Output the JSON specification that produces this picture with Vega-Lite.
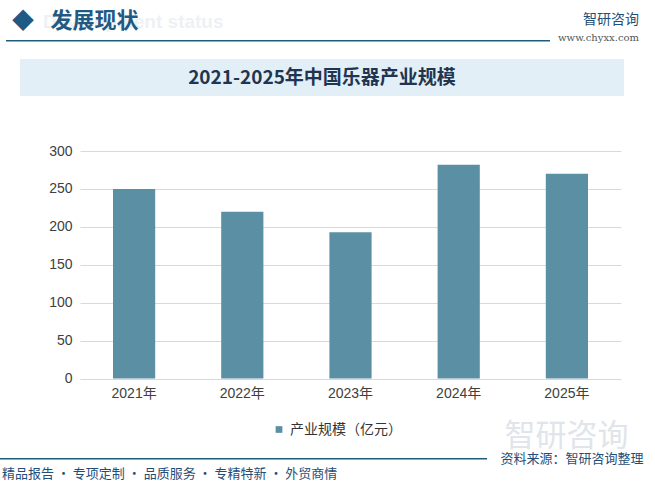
{
  "$schema": "https://vega.github.io/schema/vega-lite/v6.json",
  "background": "white",
  "padding": {"left": 0, "top": 9, "right": 0, "bottom": 0},
  "config": {"view": {"stroke": null}, "font": "Noto Sans CJK SC"},
  "title": {
    "text": "精品报告 · 专项定制 · 品质服务 · 专精特新 · 外贸商情",
    "orient": "bottom", "anchor": "start", "frame": "bounds",
    "fontSize": 13, "fontWeight": "normal", "color": "#1f4e79",
    "offset": 2, "dx": 2
  },
  "spacing": 0,
  "resolve": {"legend": {"color": "independent"}},
  "vconcat": [
    {
      "hconcat": [
        {
          "width": 6, "height": 1.5,
          "data": {"values": []},
          "mark": {"type": "text"},
          "title": {
            "text": "Development status", "anchor": "start", "fontSize": 19, "fontWeight": "bold",
            "font": "Liberation Sans", "color": "#eef1f4", "offset": 8.5, "dx": 43, "limit": 300
          }
        },
        {
          "width": 544, "height": 1.5,
          "view": {"fill": "#1f5c7a", "stroke": null},
          "data": {"values": []},
          "mark": {"type": "text"},
          "title": {
            "text": "◆\u2002\u2005发展现状", "anchor": "start", "fontSize": 22, "fontWeight": "bold",
            "color": "#1f5a85", "offset": 7.5, "dx": 6, "limit": 300
          }
        },
        {
          "width": 89, "height": 1.5,
          "data": {"values": []},
          "mark": {"type": "text"},
          "title": {
            "text": "智研咨询", "subtitle": "www.chyxx.com", "anchor": "end",
            "fontSize": 14, "fontWeight": "normal", "color": "#1f4e79",
            "subtitleFontSize": 10, "subtitleColor": "#555555", "subtitleFont": "DejaVu Serif",
            "subtitlePadding": 6, "offset": -3, "limit": 150
          }
        },
        {
          "width": 1, "height": 1.5,
          "data": {"values": []},
          "mark": {"type": "text"},
          "title": {"text": " ", "orient": "bottom", "fontSize": 4, "offset": 13, "limit": 100}
        }
      ],
      "spacing": 0,
      "bounds": "flush"
    },
    {
      "hconcat": [
        {
          "width": 20, "height": 1,
          "data": {"values": []},
          "mark": {"type": "text"}
        },
        {
          "width": 604, "height": 37,
          "view": {"fill": "#e3eff7", "stroke": null},
          "data": {"values": [{"title": "2021-2025年中国乐器产业规模"}]},
          "mark": {"type": "text", "fontSize": 19, "fontWeight": "bold", "color": "#1f3550"},
          "encoding": {"text": {"field": "title", "type": "nominal"}}
        }
      ],
      "spacing": 0,
      "bounds": "flush"
    },
    {
      "hconcat": [
        {
          "width": 80, "height": 1,
          "data": {"values": []},
          "mark": {"type": "text"}
        },
        {
          "width": 541, "height": 227.5,
          "data": {"values": [
            {"year": "2021年", "value": 250, "series": "产业规模（亿元）"},
            {"year": "2022年", "value": 220, "series": "产业规模（亿元）"},
            {"year": "2023年", "value": 193, "series": "产业规模（亿元）"},
            {"year": "2024年", "value": 282, "series": "产业规模（亿元）"},
            {"year": "2025年", "value": 270, "series": "产业规模（亿元）"}
          ]},
          "mark": {"type": "bar"},
          "title": {"text": " ", "fontSize": 4, "offset": 43.5, "limit": 100},
          "encoding": {
            "x": {
              "field": "year", "type": "ordinal",
              "scale": {"paddingInner": 0.61, "paddingOuter": 0.305},
              "axis": {
                "title": "智研咨询", "titleX": 424, "titleY": 67, "titleAlign": "left",
                "titleBaseline": "alphabetic", "titleFontSize": 31, "titleFontWeight": "normal",
                "titleColor": "#dfe5ea", "titleAngle": 0, "titleLimit": 300,
                "labelAngle": 0, "domain": false, "ticks": false, "labelFontSize": 14,
                "labelColor": "#404040", "labelPadding": 8,
                "labelFont": "Liberation Sans, Noto Sans CJK SC"
              }
            },
            "y": {
              "field": "value", "type": "quantitative",
              "scale": {"domain": [0, 300]},
              "axis": {
                "values": [0, 50, 100, 150, 200, 250, 300],
                "title": null,
                "domain": false, "ticks": false, "gridColor": "#d9d9d9",
                "labelFontSize": 14, "labelColor": "#404040", "labelPadding": 8,
                "labelFont": "Liberation Sans"
              }
            },
            "color": {
              "field": "series", "type": "nominal",
              "scale": {"range": ["#5b8fa3"]},
              "legend": {
                "title": null, "orient": "none", "legendX": 272, "legendY": 271.5,
                "symbolType": "square", "symbolSize": 45, "labelFontSize": 14,
                "labelColor": "#333333", "labelFont": "Noto Sans CJK SC"
              }
            }
          }
        }
      ],
      "spacing": 0,
      "bounds": "flush"
    },
    {
      "hconcat": [
        {
          "width": 487, "height": 1.5,
          "view": {"fill": "#1f5c7a", "stroke": null},
          "data": {"values": []},
          "mark": {"type": "text"}
        },
        {
          "width": 146, "height": 1.5,
          "data": {"values": [{"source": "资料来源：智研咨询整理"}]},
          "mark": {"type": "text", "fontSize": 13, "color": "#1f4e79"},
          "encoding": {"text": {"field": "source", "type": "nominal"}}
        }
      ],
      "spacing": 12,
      "bounds": "flush"
    }
  ]
}
